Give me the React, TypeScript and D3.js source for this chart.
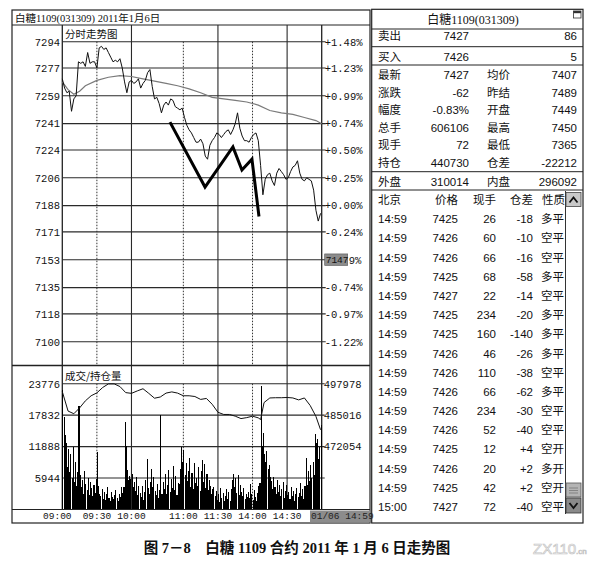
import React from 'react';
import * as d3 from 'd3';

// ---------- data ----------
const priceTicks = [7294, 7277, 7259, 7241, 7224, 7206, 7188, 7171, 7153, 7135, 7118, 7100];
const pctLabels = ['+1.48%', '+1.23%', '+0.99%', '+0.74%', '+0.50%', '+0.25%', '+0.00%', '-0.24%', '-0.49%', '-0.74%', '-0.97%', '-1.22%'];
const timeLabels = ['09:00', '09:30', '10:00', '11:00', '11:30', '14:00', '14:30'];
const timeLabelMinutes = [0, 30, 60, 105, 135, 165, 195];
const dottedGridMinutes = [30, 105, 165];
const solidGridMinutes = [60, 135, 195];
const volTicks = [23776, 17832, 11888, 5944];
const oiTicks = [497978, 485016, 472054];

// price every 2 minutes (minute 0..224)
const prices = [
  7270, 7264, 7261, 7262, 7249, 7257, 7259, 7281, 7280, 7281,
  7278, 7287, 7280, 7281, 7281, 7277, 7290, 7291, 7289, 7290,
  7287, 7284, 7281, 7282, 7281, 7283, 7277, 7268, 7261, 7268,
  7269, 7267, 7268, 7270, 7264, 7267, 7269, 7274, 7276, 7265,
  7257, 7258, 7254, 7248, 7253, 7255, 7253, 7257, 7256, 7252,
  7251, 7250, 7251, 7245, 7240, 7237, 7235, 7232, 7229, 7229,
  7231, 7228, 7220, 7218, 7227, 7230, 7232, 7235, 7234, 7232,
  7234, 7236, 7237, 7234, 7237, 7241, 7248, 7238, 7233, 7230,
  7230, 7229, 7232, 7234, 7235, 7230, 7214, 7195, 7205, 7208,
  7209, 7204, 7201, 7209, 7212, 7210, 7208, 7205, 7206, 7210,
  7213, 7214, 7217, 7209, 7205, 7204, 7206, 7205, 7204, 7198,
  7185, 7178, 7183,
];
const priceMinutes = d3.range(0, 225, 2);

const avgMinutes = [0, 5, 10, 15, 20, 30, 40, 50, 60, 70, 80, 90, 100, 110, 120, 130, 140, 150, 160, 170, 180, 190, 200, 210, 220, 225];
const avgValues = [7268, 7263, 7260, 7262, 7265.5, 7269, 7271, 7272, 7271.5, 7270, 7268.5, 7267, 7265.5, 7263.5, 7261, 7258, 7257, 7256, 7255, 7253, 7249.5, 7248, 7247, 7245, 7243, 7241];

const annoMinutes = [93.4, 123.8, 148, 155.8, 164.5, 170.6];
const annoPrices = [7242, 7200, 7226, 7211, 7218, 7181];

// volume per minute (0..224)
const volumes = [
  22500, 17500, 14000, 12500, 8000, 11500, 7000, 10500, 6000, 11800, 5200, 9000, 4500, 7000, 19500,
  6500, 4200, 5600, 3000, 7200, 4800, 3600, 6000, 2800, 5200, 4000, 2500, 4600, 3200, 5800,
  10800, 4500, 3000, 2600, 3800, 2000, 3300, 1800, 2900, 4200, 2200, 1600, 3400, 2400, 1900,
  2800, 3600, 2100, 1700, 2900, 2300, 4300, 3100, 4200, 16500, 12000, 7500, 5500, 6300, 5800,
  6800, 4200, 5200, 3500, 6200, 2800, 4400, 3200, 2400, 4500, 1800, 3300, 5600, 9500, 4000,
  3000, 5200, 7600, 4300, 6200, 3500, 2700, 4800, 2200, 3600, 17800, 3000, 5200, 3800, 6800,
  2900, 4600, 7400, 3300, 5700, 4100, 8300, 3600, 6400, 2800, 5000, 4800, 7600, 11800, 9000,
  11200, 6500, 8800, 5400, 7300, 9800, 4200, 6900, 3800, 8700, 5100, 6000, 4500, 8000, 3500,
  7300, 9300, 5200, 8600, 4100, 6800, 3700, 5600, 4400, 2900, 3800, 4300, 2600, 3500, 1800,
  2900, 1500, 4000, 2200, 3100, 1700, 2600, 3800, 2000, 3300, 1600, 3900, 5600, 6800, 4300,
  5900, 3200, 6600, 2700, 4600, 3400, 2500, 4100, 1900, 3000, 2300, 3400, 2100, 4800, 2900,
  1800, 3600, 2400, 1600, 3100, 4500, 5000, 23400, 12000, 14500, 10500, 9000, 11000, 7600, 8400,
  6200, 5400, 3800, 6100, 4200, 2900, 5600, 3300, 4700, 2500, 3900, 5200, 2200, 3500, 4600,
  2800, 3300, 1900, 4200, 2600, 3500, 1700, 2900, 4000, 2300, 3100, 5000, 2600, 3800, 2000,
  4400, 9800, 4600, 7200, 5300, 8400, 6000, 9000, 6500, 14300, 12500, 13400, 9500, 11800, 16000,
];

const oiMinutes = [0, 5, 10, 15, 20, 25, 30, 35, 40, 45, 50, 55, 60, 65, 70, 75, 80, 85, 90, 95, 100, 105, 110, 115, 120, 125, 130, 135, 140, 145, 150, 155, 160, 165, 170, 172, 175, 180, 185, 190, 195, 200, 205, 210, 215, 220, 224];
const oiValues = [494700, 486700, 485600, 488000, 490900, 493000, 494200, 496400, 497900, 497900, 496800, 494300, 494000, 495000, 495900, 494000, 492000, 492500, 494100, 494600, 494100, 493000, 493000, 492700, 491500, 491900, 489500, 486200, 485300, 485300, 484600, 483600, 484000, 484600, 483900, 483200, 490200, 492100, 492200, 492200, 492300, 492100, 491300, 492100, 489000, 484500, 479000];

// right panel
const titleText = '白糖1109(031309)';
const headerText = '白糖1109(031309) 2011年1月6日';
const askRow = ['卖出', '7427', '86'];
const bidRow = ['买入', '7426', '5'];
const quoteLabelsL = ['最新', '涨跌', '幅度', '总手', '现手', '持仓'];
const quoteValuesL = ['7427', '-62', '-0.83%', '606106', '72', '440730'];
const quoteLabelsR = ['均价', '昨结', '开盘', '最高', '最低', '仓差'];
const quoteValuesR = ['7407', '7489', '7449', '7450', '7365', '-22212'];
const outerRow = ['外盘', '310014', '内盘', '296092'];
const tradeHeaders = ['北京', '价格', '现手', '仓差', '性质'];
const tradeTimes = ['14:59', '14:59', '14:59', '14:59', '14:59', '14:59', '14:59', '14:59', '14:59', '14:59', '14:59', '14:59', '14:59', '14:59', '14:59', '15:00'];
const tradePrices = [7425, 7426, 7426, 7425, 7427, 7425, 7425, 7426, 7426, 7426, 7426, 7426, 7425, 7426, 7425, 7427];
const tradeVols = [26, 60, 66, 68, 22, 234, 160, 46, 110, 66, 234, 52, 12, 20, 42, 72];
const tradeOiChg = ['-18', '-10', '-16', '-58', '-14', '-20', '-140', '-26', '-38', '-62', '-30', '-40', '+4', '+2', '+2', '-40'];
const tradeNature = ['多平', '空平', '空平', '多平', '空平', '多平', '多平', '多平', '空平', '多平', '空平', '空平', '空开', '多开', '空开', '空平'];
const cursorPrice = '7147';
const cursorPriceTick = 7153;
const cursorTime = '01/06 14:59';
const caption = '图 7－8　白糖 1109 合约 2011 年 1 月 6 日走势图';

const MONO = "'Liberation Mono','DejaVu Sans Mono',monospace";
const SANS = "'Liberation Sans','Noto Sans CJK SC',sans-serif";
const CJK = "'Noto Sans CJK SC','Liberation Sans',sans-serif";
const SERIF = "'Liberation Serif','Noto Sans CJK SC',serif";

export default function App() {
  const x = d3.scaleLinear().domain([0, 225]).range([62.3, 321.7]);
  const yP = d3.scaleLinear().domain([7100, 7294]).range([341.7, 41.7]);
  const yV = d3.scaleLinear().domain([0, 23776]).range([509.5, 383.7]);
  const yOI = d3.scaleLinear().domain([472054, 497978]).range([yV(11888), yV(23776)]);

  const priceLine = d3.line<number>().x((_, i) => x(priceMinutes[i])).y((d) => yP(d));
  const avgLine = d3.line<number>().x((_, i) => x(avgMinutes[i])).y((d) => yP(d));
  const annoLine = d3.line<number>().x((_, i) => x(annoMinutes[i])).y((d) => yP(d));
  const oiLine = d3.line<number>().x((_, i) => x(oiMinutes[i])).y((d) => yOI(d));

  const L = 12, R = 370, TOP = 10, BOT = 523;
  const xL = x(0), xR = x(225);
  const priceTop = 25, priceBot = 365.5, volTop = yV(23776), volBot = yV(0);
  const RP0 = 371.7, RP1 = 583;
  const rowY0 = 219.3, rowStep = 19.18;
  const cursorIdx = priceTicks.indexOf(cursorPriceTick);

  return (
    <svg width={604} height={573} style={{ position: 'absolute', left: 0, top: 0, background: '#fff' }}>
      <rect x={0} y={0} width={604} height={573} fill="#fff" />
      {/* left panel frame */}
      <rect x={L} y={TOP} width={R - L} height={BOT - TOP} fill="none" stroke="#222" strokeWidth={1.2} />
      <line x1={L} x2={R} y1={priceTop} y2={priceTop} stroke="#222" strokeWidth={1} />
      <text x={15} y={21.5} fontSize={10.5} fontFamily={SERIF} fill="#111">{headerText}</text>
      <line x1={xL} x2={xL} y1={priceTop} y2={volBot} stroke="#222" strokeWidth={1.3} />
      <line x1={xR} x2={xR} y1={priceTop} y2={volBot} stroke="#222" strokeWidth={1.3} />
      <text x={65} y={37.5} fontSize={10.5} fontFamily={CJK} fill="#111">分时走势图</text>

      {/* price horizontal grid */}
      {priceTicks.map((p, i) => (
        <g key={'pt' + i}>
          <line x1={xL} x2={xR + 4} y1={yP(p)} y2={yP(p)} stroke="#2a2a2a" strokeWidth={1.1} />
          <text x={60} y={yP(p) + 3.8} textAnchor="end" fontSize={10.5} fontFamily={MONO} fill="#111">{p}</text>
          {i !== cursorIdx && (
            <text x={xR + 3} y={yP(p) + 3.8} fontSize={10.5} fontFamily={MONO} fill="#111">{pctLabels[i]}</text>
          )}
        </g>
      ))}
      {/* vertical grid */}
      {solidGridMinutes.map((m) => (
        <line key={'sg' + m} x1={x(m)} x2={x(m)} y1={priceTop} y2={volBot} stroke="#2a2a2a" strokeWidth={1.1} />
      ))}
      {dottedGridMinutes.map((m) => (
        <g key={'dg' + m}>
          <line x1={x(m)} x2={x(m)} y1={yP(7294)} y2={priceBot} stroke="#333" strokeWidth={1} strokeDasharray="1.5,1.5" />
          <line x1={x(m)} x2={x(m)} y1={volTop} y2={volBot} stroke="#333" strokeWidth={1} strokeDasharray="1.5,1.5" />
        </g>
      ))}

      {/* avg line, price line, annotation */}
      <path d={avgLine(avgValues) || ''} fill="none" stroke="#7a7a7a" strokeWidth={1.2} />
      <path d={priceLine(prices) || ''} fill="none" stroke="#111" strokeWidth={1} />
      <path d={annoLine(annoPrices) || ''} fill="none" stroke="#000" strokeWidth={3} strokeLinejoin="miter" />

      {/* cursor price box, covering the start of the -0.49% label */}
      <rect x={xR + 3} y={yP(cursorPriceTick) - 5.8} width={23} height={11.5} fill="#8c8c8c" stroke="#555" strokeWidth={0.6} />
      <text x={xR + 4} y={yP(cursorPriceTick) + 3.6} fontSize={9.5} fontFamily={MONO} fill="#111">{cursorPrice}</text>
      <text x={xR + 27} y={yP(cursorPriceTick) + 3.8} fontSize={10.5} fontFamily={MONO} fill="#111">{pctLabels[cursorIdx].slice(4)}</text>

      {/* panel separator */}
      <line x1={L} x2={R} y1={priceBot} y2={priceBot} stroke="#222" strokeWidth={1.6} />
      <text x={65} y={380} fontSize={10.5} fontFamily={CJK} fill="#111">成交/持仓量</text>

      {/* volume grid */}
      {volTicks.map((v, i) => (
        <g key={'vt' + i}>
          <line x1={xL} x2={xR + 3} y1={yV(v)} y2={yV(v)} stroke="#2a2a2a" strokeWidth={1.1} />
          <text x={60} y={yV(v) + 3.8} textAnchor="end" fontSize={10.5} fontFamily={MONO} fill="#111">{v}</text>
        </g>
      ))}
      {oiTicks.map((v, i) => (
        <text key={'oi' + i} x={xR + 2} y={yOI(v) + 3.8} fontSize={10.5} fontFamily={MONO} fill="#111">{v}</text>
      ))}

      {/* volume bars */}
      <g shapeRendering="crispEdges">
        {volumes.map((v, i) => (
          <rect key={'vb' + i} x={x(i) + 0.05} y={yV(v)} width={1.05} height={volBot - yV(v)} fill="#000" />
        ))}
      </g>
      <path d={oiLine(oiValues) || ''} fill="none" stroke="#111" strokeWidth={1} />

      {/* time axis */}
      <line x1={L} x2={R} y1={volBot} y2={volBot} stroke="#222" strokeWidth={1.2} />
      {timeLabels.map((t, i) => (
        <text key={'tl' + i} x={x(timeLabelMinutes[i]) + (i === 0 ? -5 : 0)} y={519} textAnchor="middle" fontSize={9.5} fontFamily={MONO} fill="#111">{t}</text>
      ))}
      <rect x={310} y={volBot + 1} width={60} height={BOT - volBot - 1.5} fill="#8c8c8c" />
      <text x={311} y={519} fontSize={9.5} fontFamily={MONO} fill="#222">{cursorTime}</text>

      {/* right panel */}
      <rect x={RP0} y={9.3} width={RP1 - RP0} height={BOT - 9.3} fill="none" stroke="#222" strokeWidth={1.2} />
      <text x={473} y={24} textAnchor="middle" fontSize={12} fontFamily={SERIF} fill="#111">{titleText}</text>
      <rect x={573.5} y={11} width={7.5} height={7} fill="#fff" stroke="#333" strokeWidth={0.8} />
      <rect x={573.5} y={11} width={7.5} height={2.2} fill="#333" />
      {[29, 46.7, 65, 171.7, 190].map((yy, i) => (
        <line key={'rs' + i} x1={RP0} x2={RP1} y1={yy} y2={yy} stroke="#222" strokeWidth={1} />
      ))}
      {[askRow, bidRow].map((r, i) => (
        <g key={'ab' + i}>
          <text x={378} y={[39.5, 60.5][i]} fontSize={11.5} fontFamily={CJK} fill="#111">{r[0]}</text>
          <text x={469} y={[39.5, 60.5][i]} textAnchor="end" fontSize={11.5} fontFamily={SANS} fill="#111">{r[1]}</text>
          <text x={577} y={[39.5, 60.5][i]} textAnchor="end" fontSize={11.5} fontFamily={SANS} fill="#111">{r[2]}</text>
        </g>
      ))}
      {quoteLabelsL.map((lab, i) => {
        const yy = 79 + i * 17.6;
        return (
          <g key={'q' + i}>
            <text x={378} y={yy} fontSize={11.5} fontFamily={CJK} fill="#111">{lab}</text>
            <text x={469} y={yy} textAnchor="end" fontSize={11.5} fontFamily={SANS} fill="#111">{quoteValuesL[i]}</text>
            <text x={487} y={yy} fontSize={11.5} fontFamily={CJK} fill="#111">{quoteLabelsR[i]}</text>
            <text x={577} y={yy} textAnchor="end" fontSize={11.5} fontFamily={SANS} fill="#111">{quoteValuesR[i]}</text>
          </g>
        );
      })}
      <text x={378} y={185.5} fontSize={11.5} fontFamily={CJK} fill="#111">{outerRow[0]}</text>
      <text x={469} y={185.5} textAnchor="end" fontSize={11.5} fontFamily={SANS} fill="#111">{outerRow[1]}</text>
      <text x={487} y={185.5} fontSize={11.5} fontFamily={CJK} fill="#111">{outerRow[2]}</text>
      <text x={577} y={185.5} textAnchor="end" fontSize={11.5} fontFamily={SANS} fill="#111">{outerRow[3]}</text>

      {/* trade list header */}
      {tradeHeaders.map((h, i) => (
        <text key={'th' + i} x={[378, 458, 496, 533, 542][i]} y={204} textAnchor={i === 0 || i === 4 ? 'start' : 'end'} fontSize={11.5} fontFamily={CJK} fill="#111">{h}</text>
      ))}
      {tradeTimes.map((t, i) => {
        const yy = rowY0 + i * rowStep + 4;
        return (
          <g key={'tr' + i}>
            <text x={378} y={yy} fontSize={11.5} fontFamily={SANS} fill="#111">{t}</text>
            <text x={458} y={yy} textAnchor="end" fontSize={11.5} fontFamily={SANS} fill="#111">{tradePrices[i]}</text>
            <text x={496} y={yy} textAnchor="end" fontSize={11.5} fontFamily={SANS} fill="#111">{tradeVols[i]}</text>
            <text x={533} y={yy} textAnchor="end" fontSize={11.5} fontFamily={SANS} fill="#111">{tradeOiChg[i]}</text>
            <text x={541} y={yy} fontSize={11.5} fontFamily={CJK} fill="#111">{tradeNature[i]}</text>
          </g>
        );
      })}

      {/* scrollbar */}
      <line x1={565.5} x2={565.5} y1={191} y2={514} stroke="#333" strokeWidth={1} />
      <rect x={566} y={192.5} width={15} height={14} fill="#c8c8c8" stroke="#444" strokeWidth={0.8} />
      <path d="M569.5,202.5 L573.5,197.5 L577.5,202.5" fill="none" stroke="#111" strokeWidth={1.8} />
      <rect x={566} y={483} width={15} height={14} fill="#b4b4b4" stroke="#555" strokeWidth={0.8} />
      <line x1={569} x2={578} y1={488} y2={488} stroke="#777" strokeWidth={0.8} />
      <line x1={569} x2={578} y1={490.5} y2={490.5} stroke="#777" strokeWidth={0.8} />
      <line x1={569} x2={578} y1={493} y2={493} stroke="#777" strokeWidth={0.8} />
      <rect x={566} y={498} width={15} height={15} fill="#8a8a8a" stroke="#333" strokeWidth={0.8} />
      <path d="M569.5,503 L573.5,508 L577.5,503" fill="none" stroke="#111" strokeWidth={1.8} />

      {/* caption */}
      <text x={297} y={553} textAnchor="middle" fontSize={14.5} fontWeight="bold" fontFamily={SERIF} fill="#111">{caption}</text>
      <text x={533} y={554} fontSize={15} fontFamily={SANS} fill="#fff" stroke="#c4c4c4" strokeWidth={0.7}>ZX110<tspan fontSize={8}>.cn</tspan></text>
    </svg>
  );
}
